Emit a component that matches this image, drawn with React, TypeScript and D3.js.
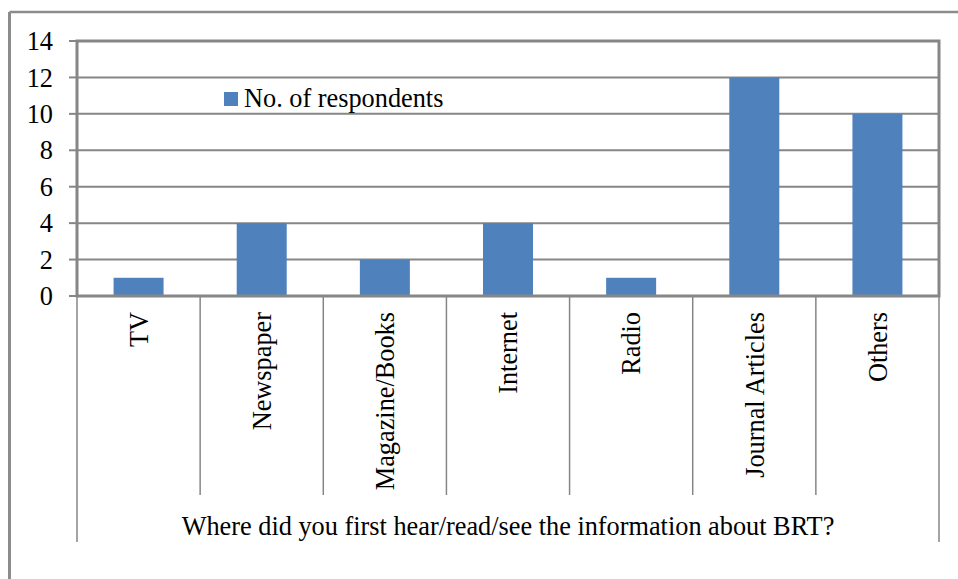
import React from "react";
import * as d3 from "d3";

const categories = ["TV", "Newspaper", "Magazine/Books", "Internet", "Radio", "Journal Articles", "Others"];
const respondents = [1, 4, 2, 4, 1, 12, 10];
const yTicks = [0, 2, 4, 6, 8, 10, 12, 14];
const seriesName = "No. of respondents";
const axisTitle = "Where did you first hear/read/see the information about BRT?";

const W = 958;
const H = 579;
const plot = { left: 77, right: 939, top: 41, bottom: 296 };
const FONT = "Liberation Serif, Times New Roman, serif";
const FS = 26.3;
const GRID = "#868686";
const BAR = "#4f81bd";

const textStyle: React.CSSProperties = { fontFamily: FONT, fontSize: FS, fill: "#000" };

export default function App() {
  const x = d3
    .scaleBand<string>()
    .domain(categories)
    .range([plot.left, plot.right])
    .paddingInner(0)
    .paddingOuter(0);
  const y = d3.scaleLinear().domain([0, 14]).range([plot.bottom, plot.top]);
  const barW = x.bandwidth() * 0.406;
  const boundaries = d3.range(categories.length + 1).map((i) => plot.left + i * x.bandwidth());

  return (
    <svg
      width={W}
      height={H}
      style={{ position: "absolute", left: 0, top: 0, background: "#fff" }}
    >
      {/* chart frame (clipped on the right and bottom) */}
      <line x1={9.5} y1={12} x2={W} y2={12} stroke="#8c8c8c" strokeWidth={2.5} />
      <line x1={9.5} y1={12} x2={9.5} y2={H} stroke="#8c8c8c" strokeWidth={3} />

      {/* gridlines */}
      {yTicks.map((t) => (
        <line key={"g" + t} x1={plot.left} x2={plot.right} y1={y(t)} y2={y(t)} stroke={GRID} strokeWidth={2} />
      ))}
      {/* y tick marks and labels */}
      {yTicks.map((t) => (
        <g key={"t" + t}>
          <line x1={plot.left - 8} x2={plot.left} y1={y(t)} y2={y(t)} stroke={GRID} strokeWidth={2} />
          <text x={53} y={y(t)} dy="0.35em" textAnchor="end" style={textStyle}>
            {t}
          </text>
        </g>
      ))}

      {/* bars */}
      {categories.map((c, i) => (
        <rect
          key={c}
          x={(x(c) as number) + (x.bandwidth() - barW) / 2}
          y={y(respondents[i])}
          width={barW}
          height={y(0) - y(respondents[i])}
          fill={BAR}
        />
      ))}

      {/* plot area border */}
      <rect
        x={plot.left}
        y={plot.top}
        width={plot.right - plot.left}
        height={plot.bottom - plot.top}
        fill="none"
        stroke={GRID}
        strokeWidth={3}
      />

      {/* category separators */}
      {boundaries.map((bx, i) => (
        <line
          key={"s" + i}
          x1={bx}
          x2={bx}
          y1={plot.bottom}
          y2={i === 0 || i === categories.length ? 542 : 495}
          stroke={GRID}
          strokeWidth={1.5}
        />
      ))}

      {/* category labels */}
      {categories.map((c) => {
        const cx = (x(c) as number) + x.bandwidth() / 2;
        const cy = 312;
        return (
          <text
            key={"l" + c}
            transform={`translate(${cx},${cy}) rotate(-90)`}
            dy="0.35em"
            textAnchor="end"
            style={textStyle}
          >
            {c}
          </text>
        );
      })}

      {/* axis title */}
      <text x={(plot.left + plot.right) / 2} y={535} textAnchor="middle" style={textStyle}>
        {axisTitle}
      </text>

      {/* legend */}
      <rect x={224} y={92} width={14} height={14} fill={BAR} />
      <text x={244} y={107} style={textStyle}>
        {seriesName}
      </text>
    </svg>
  );
}
